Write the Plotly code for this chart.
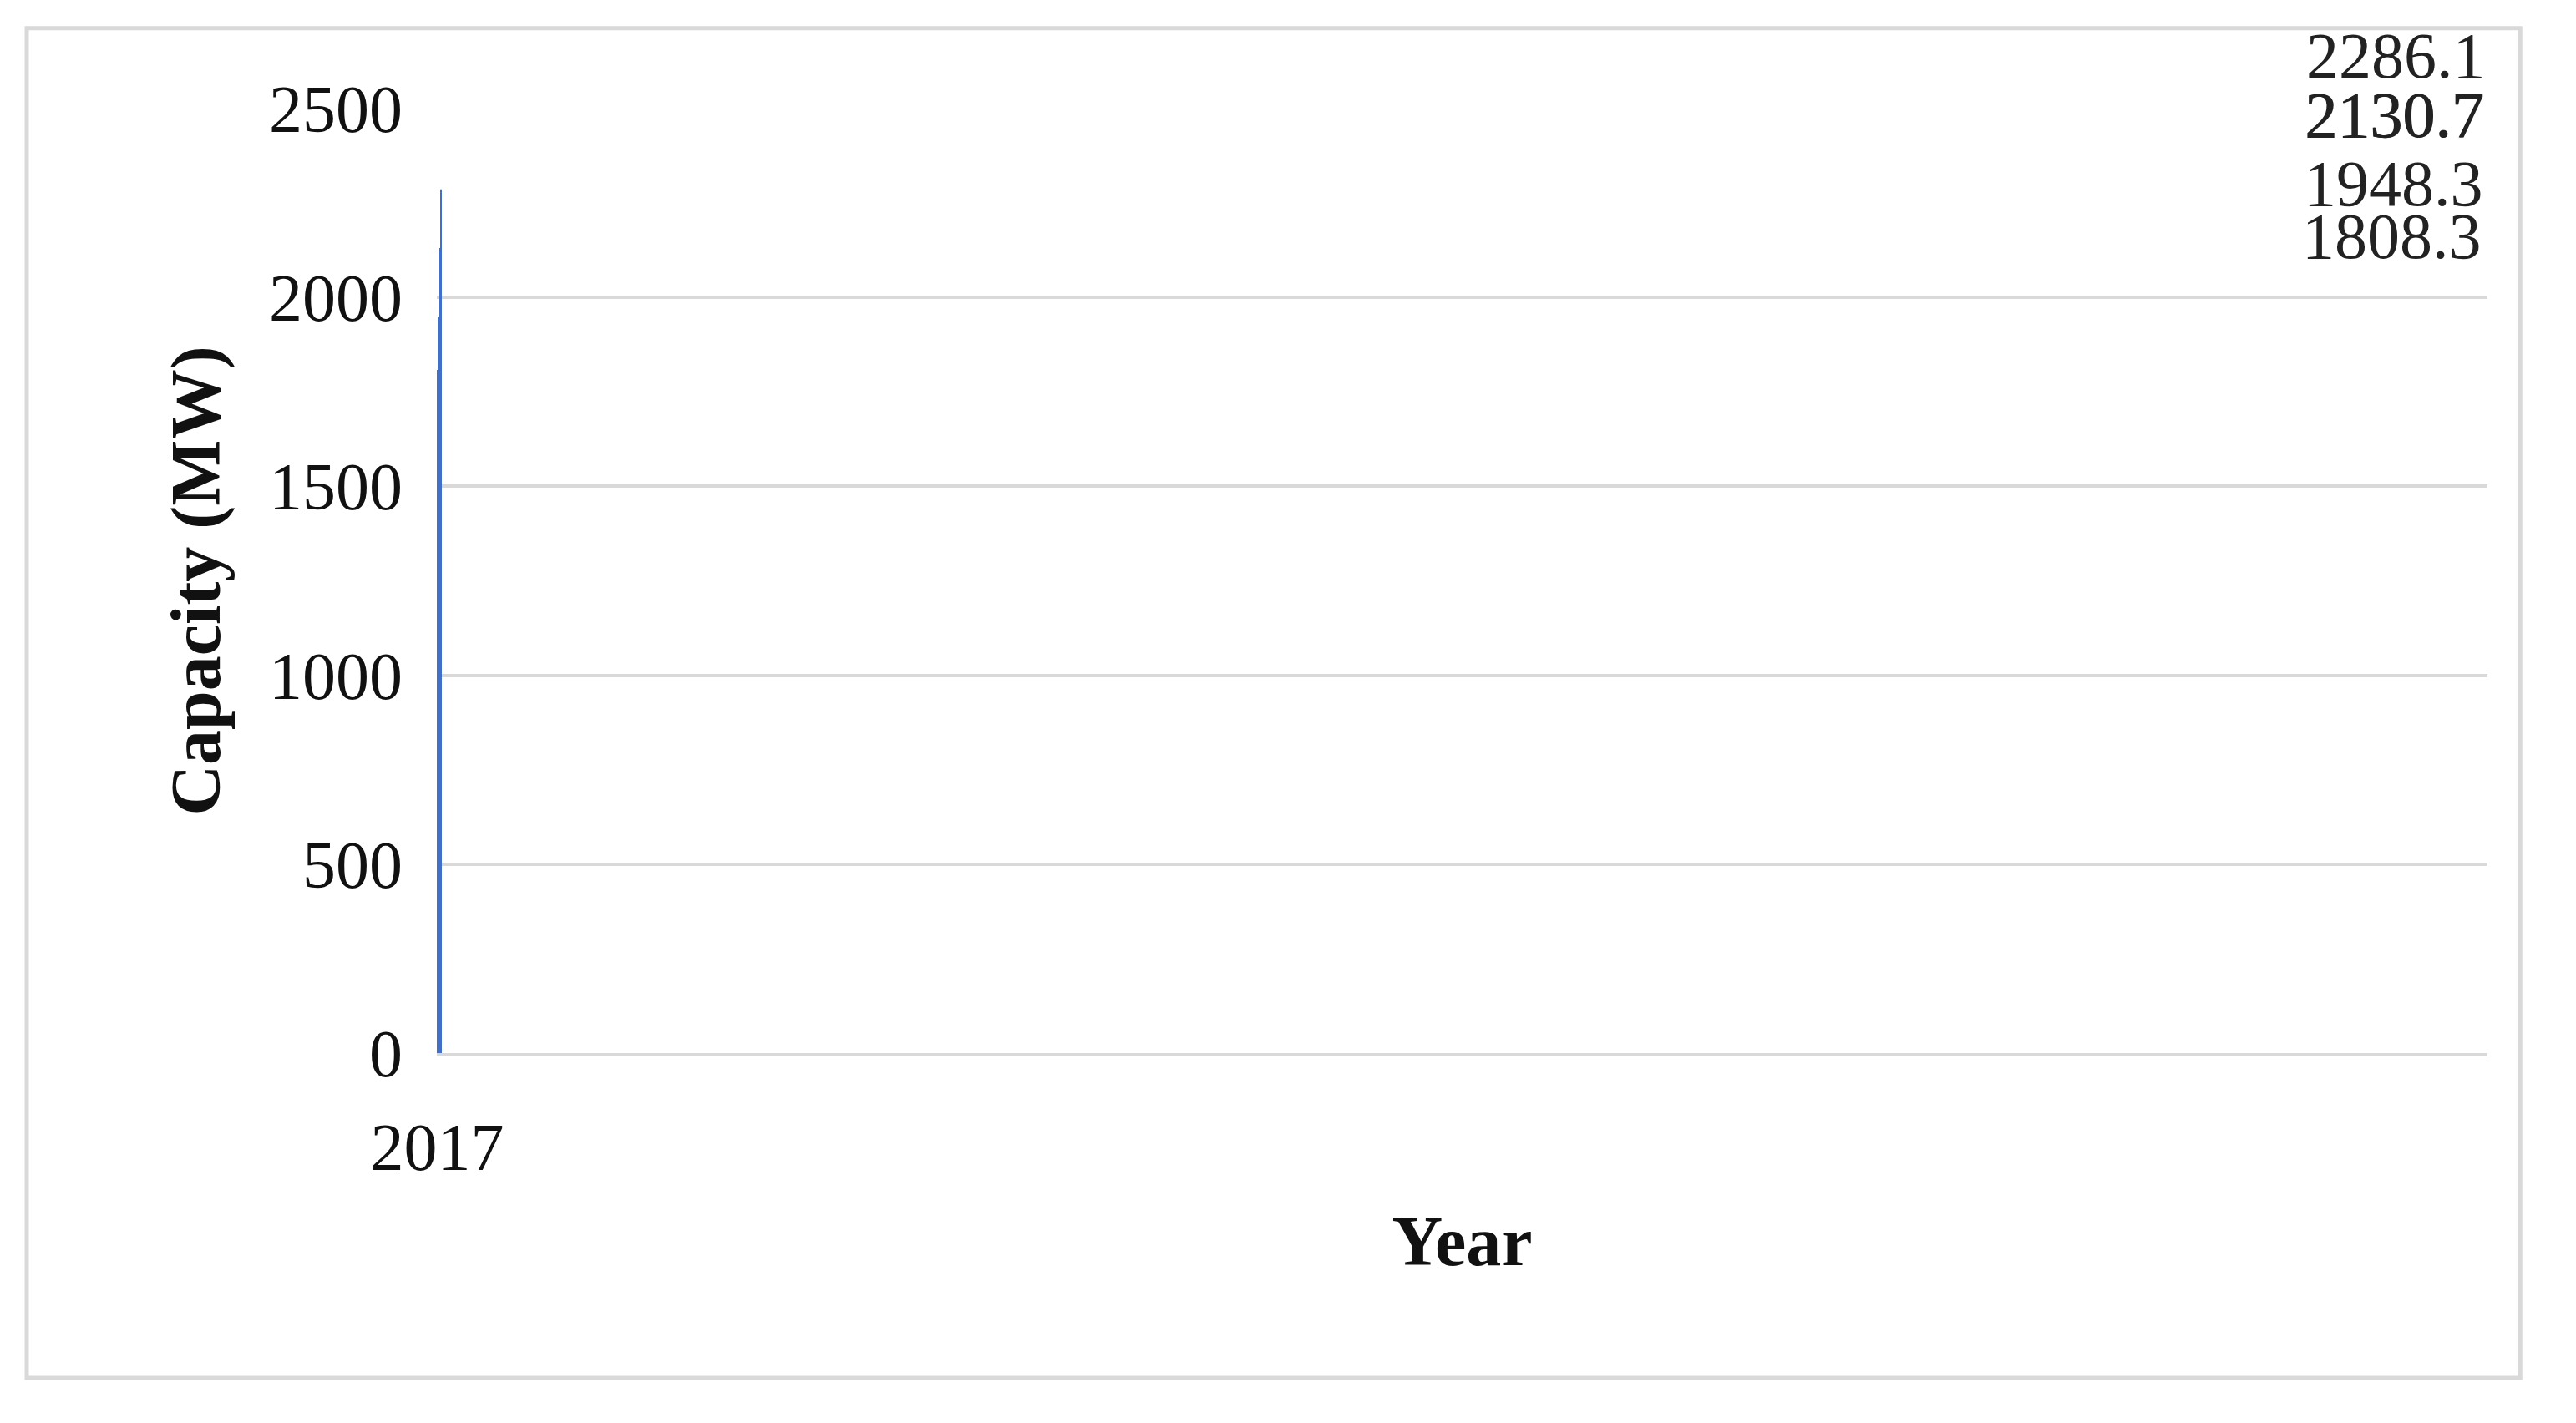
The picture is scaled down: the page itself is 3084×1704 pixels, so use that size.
import plotly.graph_objects as go

years = ["2017", "2018", "2019", "2020", "2021"]
capacity = [1808.3, 1948.3, 2130.7, 2130.7, 2286.1]
label_text = ["1808.3", "1948.3", "2130.7", "2130.7", "2286.1"]

FONT = "Liberation Serif"
fig = go.Figure(go.Bar(x=years, y=capacity, width=0.4,
                       marker=dict(color="#4270c6", line=dict(width=0))))
for yr, v, t in zip(years, capacity, label_text):
    fig.add_annotation(x=yr, y=v, text=t, showarrow=False, yshift=160,
                       font=dict(family=FONT, size=78, color="#222"))
fig.update_layout(
    width=3084, height=1704, paper_bgcolor="white", plot_bgcolor="white",
    margin=dict(l=515, r=114, t=122, b=451),
    showlegend=False,
    xaxis=dict(type="category",
               title=dict(text="<b>Year</b>", font=dict(family=FONT, size=84, color="#111"), standoff=40),
               tickfont=dict(family=FONT, size=80, color="#111"), showline=True,
               linecolor="#d9d9d9", linewidth=4, ticks="", ticklabelstandoff=40),
    yaxis=dict(title=dict(text="<b>Capacity (MW)</b>", font=dict(family=FONT, size=84, color="#111"), standoff=30),
               range=[0, 2500], dtick=500, tickfont=dict(family=FONT, size=80, color="#111"),
               gridcolor="#d9d9d9", gridwidth=4, zeroline=False, ticks="", ticklabelstandoff=40),
    shapes=[dict(type="rect", xref="paper", yref="paper", x0=-0.2, x1=1.016, y0=-0.344, y1=1.085,
                 line=dict(color="#d9d9d9", width=5))],
)
fig.write_html("out.html")
